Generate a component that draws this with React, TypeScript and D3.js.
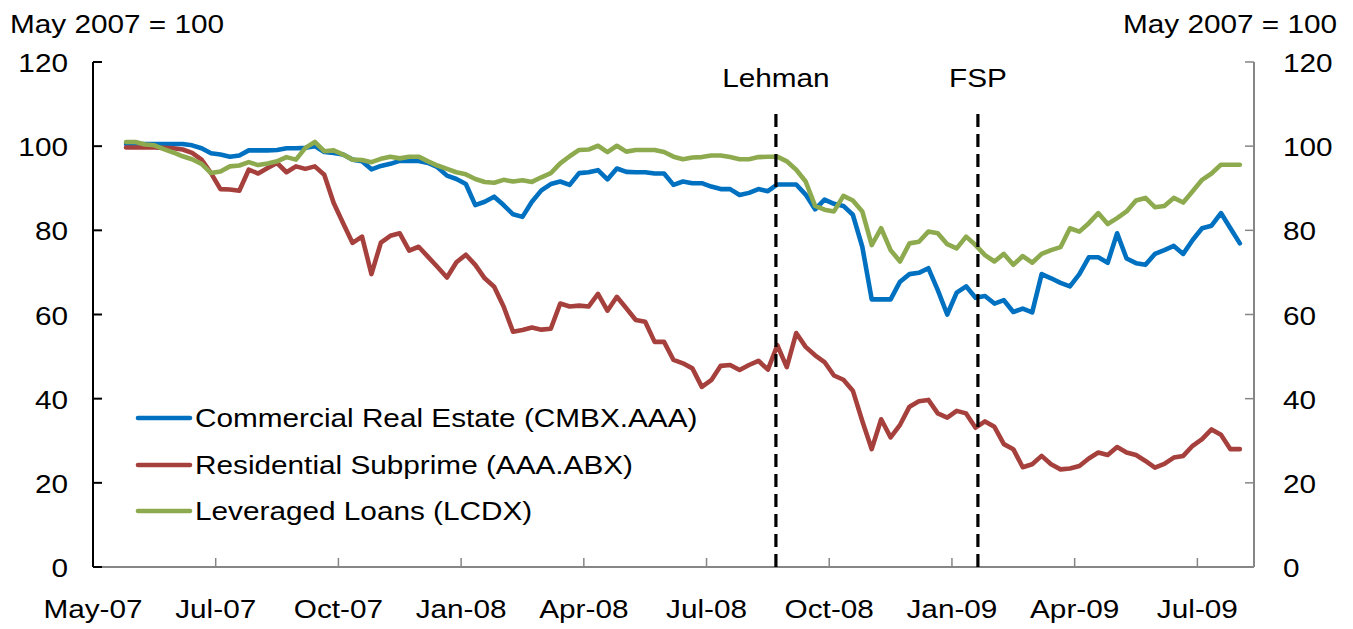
import React from "react";
import * as d3 from "d3";

// Weekly observations (index 0 = third week of May 2007)
const cmbx: number[] = [
  100.5, 100.5, 100.5, 100.5, 100.5, 100.5, 100.5, 100.2, 99.5, 98.3,
  98, 97.5, 97.8, 99, 99, 99, 99.1, 99.5, 99.5, 99.6,
  100, 98.6, 98.4, 98, 96.8, 96.4, 94.5, 95.3, 95.8, 96.5,
  96.5, 96.5, 96, 95, 93, 92.2, 91, 86, 86.8, 88,
  86, 83.8, 83.2, 86.8, 89.5, 91, 91.6, 90.8, 93.6, 93.8,
  94.3, 92.1, 94.7, 93.9, 93.8, 93.8, 93.5, 93.5, 90.8, 91.6,
  91.2, 91.2, 90.4, 89.8, 89.8, 88.4, 88.9, 89.8, 89.3, 90.9,
  90.9, 90.9, 88.5, 85, 87.3, 86.3, 85.8, 83.7, 76.1, 63.6,
  63.6, 63.6, 67.8, 69.6, 69.9, 71, 65.8, 60, 65.2, 66.7,
  64, 64.4, 62.6, 63.4, 60.6, 61.4, 60.5, 69.6, 68.6, 67.5,
  66.7, 69.6, 73.6, 73.6, 72.3, 79.3, 73.3, 72.2, 71.8, 74.4,
  75.3, 76.3, 74.4, 77.7, 80.5, 81.1, 84.1, 80.5, 76.9,
];

const abx: number[] = [
  99.7, 99.7, 99.7, 99.7, 99.6, 99.5, 99.2, 98.4, 96.8, 93.6,
  89.8, 89.7, 89.4, 94.4, 93.5, 94.8, 96, 93.8, 95.2, 94.6,
  95.2, 93.2, 86.5, 81.7, 77, 78.5, 69.6, 77.1, 78.7, 79.3,
  75.2, 76.1, 73.7, 71.3, 68.8, 72.4, 74.2, 71.8, 68.6, 66.6,
  61.9, 55.9, 56.3, 56.9, 56.4, 56.6, 62.6, 61.9, 62.1, 61.9,
  64.9, 60.9, 64.2, 61.5, 58.7, 58.3, 53.5, 53.5, 49.2, 48.4,
  47.2, 42.8, 44.4, 47.8, 48, 46.8, 48, 49, 46.9, 52.7,
  47.5, 55.6, 52.3, 50.3, 48.7, 45.5, 44.5, 41.9, 34.7, 28,
  35.1, 30.8, 33.8, 38.1, 39.4, 39.7, 36.5, 35.5, 37.1, 36.5,
  33.1, 34.6, 33.3, 29.2, 28, 23.7, 24.4, 26.4, 24.4, 23.2,
  23.4, 24, 25.8, 27.2, 26.6, 28.5, 27.2, 26.6, 25.2, 23.6,
  24.5, 26, 26.4, 28.8, 30.4, 32.7, 31.4, 28, 28,
];

const lcdx: number[] = [
  101, 101, 100.4, 100.2, 99.3, 98.5, 97.6, 96.9, 95.8, 93.6,
  94, 95.2, 95.4, 96.2, 95.5, 95.9, 96.4, 97.4, 96.8, 99.6,
  101, 98.8, 99, 98, 96.8, 96.7, 96.2, 97, 97.5, 97.1,
  97.5, 97.5, 96.4, 95.4, 94.6, 93.8, 93.3, 92.2, 91.5, 91.3,
  92, 91.6, 91.9, 91.5, 92.6, 93.6, 95.9, 97.6, 99.1, 99.2,
  100.1, 98.6, 100.1, 98.7, 99.1, 99.1, 99.1, 98.6, 97.5, 96.9,
  97.3, 97.4, 97.8, 97.8, 97.4, 96.9, 96.9, 97.4, 97.5, 97.5,
  96.4, 94.4, 91.6, 85.8, 84.9, 84.5, 88.2, 87.1, 84.5, 76.5,
  80.5, 75.3, 72.6, 76.9, 77.3, 79.7, 79.3, 76.7, 75.7, 78.5,
  76.5, 74.1, 72.6, 74.4, 71.8, 73.9, 72.3, 74.4, 75.3, 76,
  80.5, 79.7, 81.7, 84.1, 81.5, 82.9, 84.5, 87.1, 87.7, 85.5,
  85.8, 87.7, 86.6, 89.3, 92, 93.5, 95.6, 95.6, 95.6,
];

const seriesNames = [
  "Commercial Real Estate (CMBX.AAA)",
  "Residential Subprime (AAA.ABX)",
  "Leveraged Loans (LCDX)",
];
const seriesColors = ["#0070C0", "#A6403D", "#8DAA4F"];
const seriesData = [cmbx, abx, lcdx];

const xTickLabels = ["May-07", "Jul-07", "Oct-07", "Jan-08", "Apr-08", "Jul-08", "Oct-08", "Jan-09", "Apr-09", "Jul-09"];
const yTicks = [0, 20, 40, 60, 80, 100, 120];
const eventNames = ["Lehman", "FSP"];
const eventPos = [72.35, 93.75]; // category position on the weekly axis

const TOTAL_CATS = 123;
const FIRST_CAT = 3;
const TICK_EVERY = 13;

const FONT = "'Liberation Sans', Arial, Helvetica, sans-serif";
const SX = 1.19;

function T({ x, y, anchor = "start", children }: { x: number; y: number; anchor?: string; children: React.ReactNode }) {
  return (
    <text
      transform={`translate(${x},${y}) scale(${SX},1)`}
      textAnchor={anchor as any}
      fontFamily={FONT}
      fontSize={25}
      fill="#000"
    >
      {children}
    </text>
  );
}

export default function App() {
  const W = 1353;
  const H = 629;
  const left = 93;
  const right = 1254;
  const top = 62;
  const bottom = 567;

  const x = d3.scaleLinear().domain([0, TOTAL_CATS]).range([left, right]);
  const y = d3.scaleLinear().domain([0, 120]).range([bottom, top]);

  const line = d3
    .line<number>()
    .x((_, i) => x(FIRST_CAT + i + 0.5))
    .y((d) => y(d));

  const xTicks = d3.range(0, TOTAL_CATS, TICK_EVERY);

  const legendY = [418, 465, 511];

  return (
    <svg
      width={W}
      height={H}
      style={{ position: "absolute", left: 0, top: 0, background: "#fff" }}
    >
      <rect x={0} y={0} width={W} height={H} fill="#fff" />

      {/* units */}
      <T x={10} y={33}>May 2007 = 100</T>
      <T x={1123} y={33}>May 2007 = 100</T>

      {/* bottom axis */}
      <line x1={left} x2={right} y1={bottom} y2={bottom} stroke="#868686" strokeWidth={2} />
      {xTicks.map((c) => (
        <line key={`xt${c}`} x1={x(c)} x2={x(c)} y1={bottom} y2={bottom - 9} stroke="#868686" strokeWidth={1.5} />
      ))}
      {xTicks.map((c, i) => (
        <T key={`xl${c}`} x={x(c)} y={618} anchor="middle">
          {xTickLabels[i]}
        </T>
      ))}

      {/* right axis */}
      <line x1={right} x2={right} y1={top} y2={bottom} stroke="#868686" strokeWidth={2} />
      {yTicks.map((v) => (
        <line key={`ryt${v}`} x1={right - 9} x2={right} y1={y(v)} y2={y(v)} stroke="#868686" strokeWidth={1.5} />
      ))}
      {yTicks.map((v) => (
        <T key={`ryl${v}`} x={1283} y={y(v) + 10}>
          {v}
        </T>
      ))}

      {/* left axis */}
      <line x1={left} x2={left} y1={top} y2={bottom} stroke="#000" strokeWidth={2} />
      {yTicks.map((v) => (
        <line key={`lyt${v}`} x1={left} x2={left + 9} y1={y(v)} y2={y(v)} stroke="#000" strokeWidth={2} />
      ))}
      {yTicks.map((v) => (
        <T key={`lyl${v}`} x={68} y={y(v) + 10} anchor="end">
          {v}
        </T>
      ))}

      {/* series */}
      {seriesData.map((s, k) => (
        <path
          key={`s${k}`}
          d={line(s) || ""}
          fill="none"
          stroke={seriesColors[k]}
          strokeWidth={4.6}
          strokeLinejoin="round"
          strokeLinecap="round"
        />
      ))}

      {/* events */}
      {eventPos.map((p, i) => (
        <g key={`ev${i}`}>
          <line x1={x(p)} x2={x(p)} y1={bottom} y2={108} stroke="#000" strokeWidth={3.2} strokeDasharray="13 7" />
          <T x={x(p)} y={87} anchor="middle">
            {eventNames[i]}
          </T>
        </g>
      ))}

      {/* legend */}
      {seriesNames.map((n, k) => (
        <g key={`lg${k}`}>
          <line x1={138} x2={190} y1={legendY[k]} y2={legendY[k]} stroke={seriesColors[k]} strokeWidth={4.6} strokeLinecap="round" />
          <T x={195} y={legendY[k] + 9}>
            {n}
          </T>
        </g>
      ))}
    </svg>
  );
}
